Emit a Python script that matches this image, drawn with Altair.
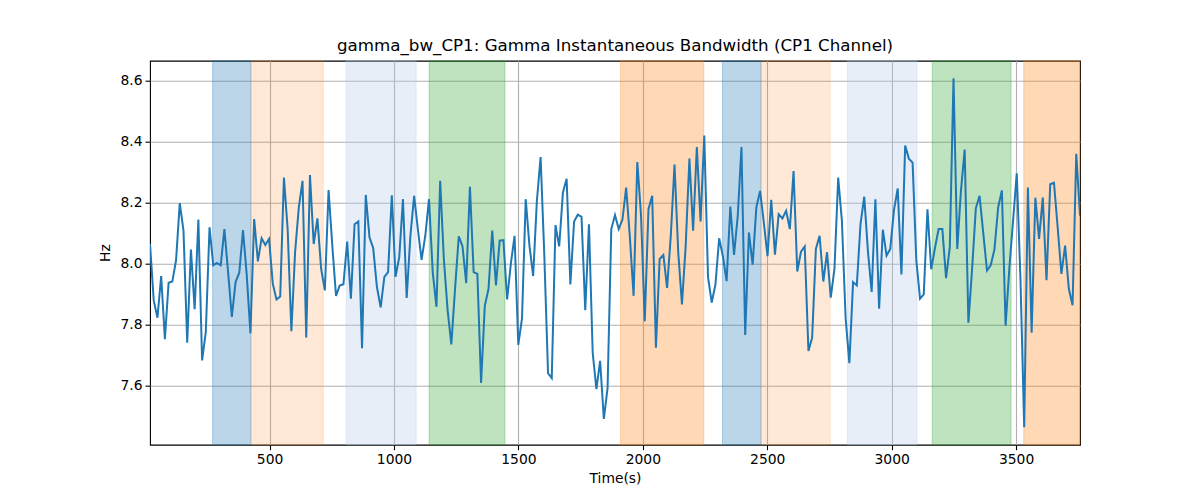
import altair as alt
import pandas as pd

# ---- data ----
T0 = 19.4      # first sample time (s)
STEP = 14.95   # sampling step (s)

gamma_bw = [
    8.065, 7.880, 7.823, 7.960, 7.753, 7.938, 7.942, 8.011, 8.199, 8.109,
    7.741, 8.047, 7.851, 8.145, 7.683, 7.777, 8.120, 7.995, 8.003, 7.995,
    8.114, 7.971, 7.826, 7.940, 7.971, 8.111, 7.964, 7.772, 8.147, 8.008,
    8.084, 8.062, 8.082, 7.935, 7.883, 7.893, 8.283, 8.114, 7.779, 8.038,
    8.185, 8.272, 7.758, 8.291, 8.065, 8.149, 7.984, 7.913, 8.242, 8.060,
    7.895, 7.929, 7.933, 8.073, 7.886, 8.130, 8.139, 7.723, 8.226, 8.087,
    8.051, 7.924, 7.857, 7.957, 7.973, 8.225, 7.957, 8.022, 8.212, 7.888,
    8.092, 8.223, 8.114, 8.013, 8.092, 8.212, 7.973, 7.859, 8.272, 8.014,
    7.848, 7.736, 7.918, 8.090, 8.058, 7.937, 8.253, 7.973, 7.967, 7.609,
    7.862, 7.918, 8.109, 7.929, 8.076, 8.078, 7.883, 8.000, 8.092, 7.734,
    7.821, 8.212, 8.060, 7.960, 8.207, 8.350, 8.027, 7.641, 7.625, 8.127,
    8.057, 8.234, 8.279, 7.932, 8.139, 8.161, 8.154, 7.848, 8.130, 7.709,
    7.589, 7.682, 7.491, 7.592, 8.114, 8.160, 8.114, 8.145, 8.250, 8.087,
    7.895, 8.334, 8.158, 7.812, 8.179, 8.223, 7.725, 8.016, 8.029, 7.921,
    8.092, 8.326, 8.038, 7.867, 8.058, 8.345, 8.109, 8.383, 8.139, 8.421,
    7.957, 7.873, 7.932, 8.084, 8.025, 7.943, 8.188, 8.029, 8.158, 8.383,
    7.767, 8.103, 7.997, 8.185, 8.239, 8.136, 8.025, 8.210, 8.030, 8.163,
    8.149, 8.174, 8.114, 8.304, 7.975, 8.040, 8.057, 7.714, 7.758, 8.049,
    8.092, 7.942, 8.038, 7.889, 7.984, 8.283, 8.140, 7.821, 7.674, 7.940,
    7.929, 8.130, 8.220, 8.040, 7.908, 8.212, 7.853, 8.112, 8.027, 8.049,
    8.177, 8.247, 7.965, 8.388, 8.345, 8.332, 8.011, 7.886, 7.900, 8.179,
    7.982, 8.051, 8.114, 8.114, 7.953, 8.054, 8.609, 8.049, 8.240, 8.375,
    7.807, 7.984, 8.182, 8.223, 8.101, 7.978, 7.995, 8.047, 8.185, 8.241,
    7.797, 7.984, 8.139, 8.297, 7.950, 7.464, 8.250, 7.774, 8.217, 8.082,
    8.217, 7.946, 8.261, 8.266, 8.120, 7.967, 8.060, 7.918, 7.864, 8.361,
    8.158,
]
time_s = [round(T0 + STEP * i, 2) for i in range(len(gamma_bw))]

band_start = [271, 425, 808, 1141, 1910, 2320, 2475, 2822, 3163, 3531]
band_end = [425, 716, 1089, 1446, 2245, 2475, 2753, 3102, 3480, time_s[-1]]
band_color = ["#1f77b4", "#ff7f0e", "#aec7e8", "#2ca02c", "#ff7f0e",
              "#1f77b4", "#ff7f0e", "#aec7e8", "#2ca02c", "#ff7f0e"]
band_alpha = [0.3, 0.17, 0.3, 0.3, 0.3, 0.3, 0.17, 0.3, 0.3, 0.3]

x_ticks = [500, 1000, 1500, 2000, 2500, 3000, 3500]
y_ticks = [7.6, 7.8, 8.0, 8.2, 8.4, 8.6]

# ---- tables ----
line_df = pd.DataFrame({"t": time_s, "v": gamma_bw})
band_df = pd.DataFrame({"s": band_start, "e": band_end,
                        "c": band_color, "a": band_alpha})

vmin, vmax = min(gamma_bw), max(gamma_bw)
pad = 0.05 * (vmax - vmin)
x_scale = alt.Scale(domain=[time_s[0], time_s[-1]], nice=False, zero=False)
y_scale = alt.Scale(domain=[vmin - pad, vmax + pad], nice=False, zero=False)

W, H = 930, 384
FONT = "DejaVu Sans"

bands = alt.Chart(band_df).mark_rect(strokeWidth=1).encode(
    x=alt.X("s:Q", scale=x_scale),
    x2="e:Q",
    y=alt.value(0),
    y2=alt.value(H),
    fill=alt.Color("c:N", scale=None),
    stroke=alt.Color("c:N", scale=None),
    fillOpacity=alt.FillOpacity("a:Q", scale=None),
    strokeOpacity=alt.StrokeOpacity("a:Q", scale=None),
)

line = alt.Chart(line_df).mark_line(color="#1f77b4", strokeWidth=2, clip=True).encode(
    x=alt.X("t:Q", scale=x_scale,
            axis=alt.Axis(title="Time(s)", values=x_ticks, format="d",
                          grid=True, titlePadding=5)),
    y=alt.Y("v:Q", scale=y_scale,
            axis=alt.Axis(title="Hz", values=y_ticks, format=".1f",
                          grid=True, titlePadding=7)),
)

chart = alt.layer(bands, line).properties(
    width=W,
    height=H,
    title=alt.TitleParams(
        "gamma_bw_CP1: Gamma Instantaneous Bandwidth (CP1 Channel)",
        font=FONT, fontSize=16.7, fontWeight="normal", color="black",
        anchor="middle", frame="group", baseline="alphabetic", offset=8, dy=16,
    ),
    autosize=alt.AutoSizeParams(type="none"),
    padding={"left": 142, "top": 52.7, "right": 100, "bottom": 50},
).configure_view(
    stroke="black", strokeWidth=1.1
).configure_axis(
    labelFont=FONT, labelFontSize=13.9, labelColor="black",
    titleFont=FONT, titleFontSize=13.9, titleFontWeight="normal", titleColor="black",
    tickColor="black", tickSize=5, tickWidth=1.1, labelPadding=3,
    domain=False, gridColor="#b0b0b0", gridWidth=1.1,
)

chart.save("out.html", embed_options={"renderer": "svg", "actions": False})
